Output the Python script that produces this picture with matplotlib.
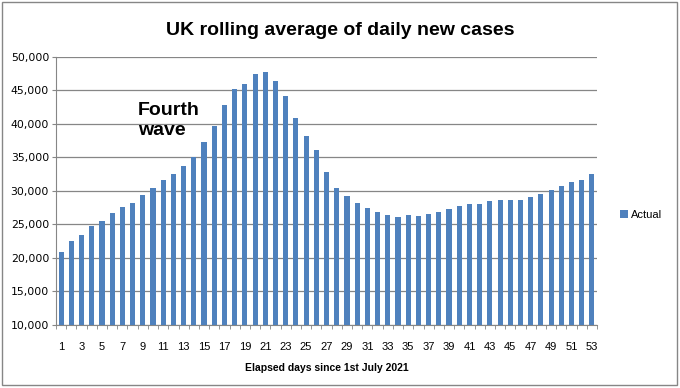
import numpy as np
import matplotlib.pyplot as plt
from matplotlib.patches import Rectangle
from matplotlib.ticker import FuncFormatter, MultipleLocator

# Elapsed days and rolling average
days = np.arange(1, 54)
actual = [20900, 22550, 23450, 24800, 25540, 26730, 27630, 28230, 29420, 30470,
          31660, 32560, 33750, 35100, 37340, 39730, 42870, 45260, 46000, 47400,
          47700, 46450, 44210, 40930, 38240, 36150, 32860, 30470, 29270, 28230,
          27480, 26880, 26430, 26140, 26430, 26290, 26580, 26880, 27330, 27780,
          28080, 28080, 28530, 28680, 28680, 28680, 29120, 29570, 30170, 30770,
          31360, 31660, 32560]
tick_days = days[::2]

grey = '#868686'
blue = '#4F81BD'

fig = plt.figure(figsize=(6.8, 3.88), dpi=100)
ax = fig.add_axes([0.0824, 0.1624, 0.7956, 0.691])

ax.bar(days, actual, width=0.5, color=blue, label='Actual', zorder=3)

ax.set_xlim(0.5, 53.5)
ax.set_ylim(10000, 50000)
ax.yaxis.set_major_locator(MultipleLocator(5000))
ax.yaxis.set_major_formatter(FuncFormatter(lambda v, p: f'{int(v):,}'))
ax.grid(axis='y', color=grey, lw=0.9, zorder=0)

ax.set_xticks(tick_days)
ax.set_xticklabels([str(d) for d in tick_days], family='Liberation Sans', fontsize=8)
ax.set_xticks(np.arange(0.5, 54), minor=True)
ax.tick_params(axis='x', which='major', length=0, pad=12)
ax.tick_params(axis='x', which='minor', length=3, color=grey)
ax.tick_params(axis='y', length=3, color=grey, labelsize=7.8, pad=2)

for s in ['top', 'right']:
    ax.spines[s].set_visible(False)
for s in ['left', 'bottom']:
    ax.spines[s].set_color(grey)

ax.set_xlabel('Elapsed days since 1st July 2021', family='Liberation Sans',
              fontsize=7.5, fontweight='bold', labelpad=8)

fig.text(0.5, 0.922, 'UK rolling average of daily new cases', ha='center', va='center',
         family='Liberation Sans', fontsize=14, fontweight='bold')

ax.text(8.5, 43200, 'Fourth\nwave', va='top', ha='left', family='Liberation Sans',
        fontsize=14, fontweight='bold', linespacing=1.2)

ax.legend(loc='center left', bbox_to_anchor=(0.905, 0.446), bbox_transform=fig.transFigure,
          frameon=False, prop={'family': 'Liberation Sans', 'size': 8},
          handlelength=0.7, handleheight=0.7, handletextpad=0.3, borderaxespad=0)

fig.patches.append(Rectangle((0.003, 0.008), 0.992, 0.988, transform=fig.transFigure,
                             fill=False, edgecolor=grey, lw=1))

fig.savefig('out.png', dpi=100)
